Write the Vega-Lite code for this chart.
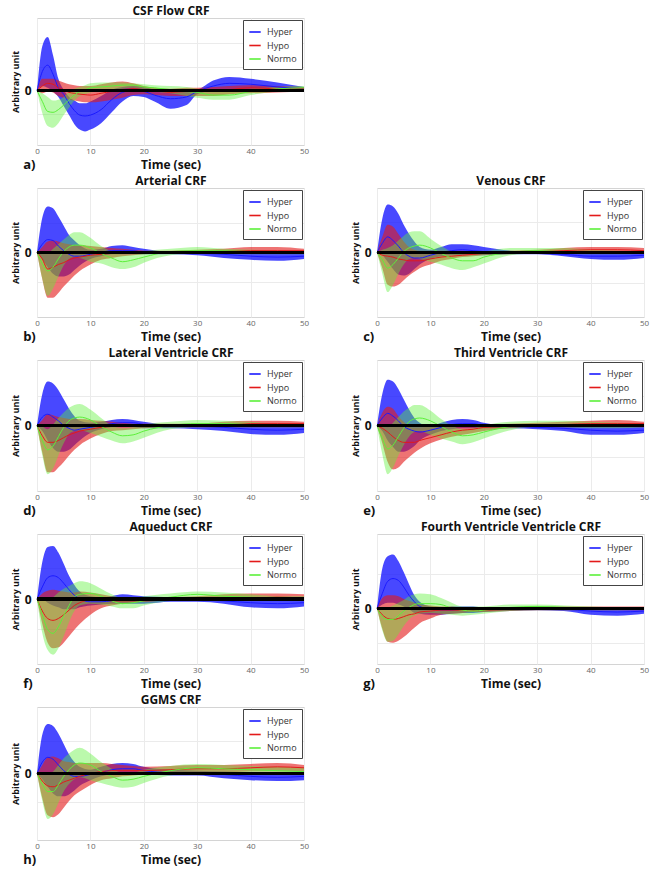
{
"$schema": "https://vega.github.io/schema/vega-lite/v6.json",
"padding": {"left": 10, "top": 3, "right": 4, "bottom": 0},
"background": "white",
"datasets": {
"crf": [
{"p":"a","s":"Hyper","t":0,"m":0,"l":0,"u":0},
{"p":"a","s":"Hyper","t":1,"m":2.1,"l":0.5,"u":4.9},
{"p":"a","s":"Hyper","t":2,"m":2.8,"l":0.3,"u":5.9},
{"p":"a","s":"Hyper","t":3,"m":1.8,"l":-0.1,"u":3.9},
{"p":"a","s":"Hyper","t":4,"m":0.3,"l":-0.7,"u":1.3},
{"p":"a","s":"Hyper","t":5,"m":-0.4,"l":-1.7,"u":0.1},
{"p":"a","s":"Hyper","t":6,"m":-1.4,"l":-2.7,"u":-0.7},
{"p":"a","s":"Hyper","t":7,"m":-2.2,"l":-3.7,"u":-1.1},
{"p":"a","s":"Hyper","t":8,"m":-2.7,"l":-4.3,"u":-1.4},
{"p":"a","s":"Hyper","t":9,"m":-2.8,"l":-4.5,"u":-1.4},
{"p":"a","s":"Hyper","t":10,"m":-2.7,"l":-4.3,"u":-1.2},
{"p":"a","s":"Hyper","t":12,"m":-2.1,"l":-3.6,"u":-0.6},
{"p":"a","s":"Hyper","t":14,"m":-1.0,"l":-2.4,"u":0.1},
{"p":"a","s":"Hyper","t":16,"m":-0.2,"l":-1.2,"u":0.4},
{"p":"a","s":"Hyper","t":18,"m":0.0,"l":-0.6,"u":0.5},
{"p":"a","s":"Hyper","t":20,"m":-0.1,"l":-0.7,"u":0.4},
{"p":"a","s":"Hyper","t":22,"m":-0.5,"l":-1.2,"u":0.1},
{"p":"a","s":"Hyper","t":25,"m":-0.9,"l":-2.0,"u":-0.1},
{"p":"a","s":"Hyper","t":28,"m":-0.7,"l":-1.6,"u":0.0},
{"p":"a","s":"Hyper","t":30,"m":-0.1,"l":-0.4,"u":0.1},
{"p":"a","s":"Hyper","t":33,"m":0.5,"l":0.0,"u":1.1},
{"p":"a","s":"Hyper","t":36,"m":0.8,"l":0.1,"u":1.5},
{"p":"a","s":"Hyper","t":40,"m":0.7,"l":0.0,"u":1.3},
{"p":"a","s":"Hyper","t":45,"m":0.4,"l":-0.1,"u":0.9},
{"p":"a","s":"Hyper","t":50,"m":0.2,"l":-0.1,"u":0.4},
{"p":"a","s":"Hypo","t":0,"m":0,"l":0,"u":0},
{"p":"a","s":"Hypo","t":1,"m":0.5,"l":-0.3,"u":1.3},
{"p":"a","s":"Hypo","t":2,"m":0.8,"l":-0.1,"u":1.3},
{"p":"a","s":"Hypo","t":3,"m":0.7,"l":-0.2,"u":1.3},
{"p":"a","s":"Hypo","t":4,"m":0.3,"l":-0.6,"u":1.1},
{"p":"a","s":"Hypo","t":5,"m":0.1,"l":-0.8,"u":0.9},
{"p":"a","s":"Hypo","t":6,"m":-0.2,"l":-1.0,"u":0.7},
{"p":"a","s":"Hypo","t":7,"m":-0.3,"l":-1.1,"u":0.6},
{"p":"a","s":"Hypo","t":8,"m":-0.4,"l":-1.2,"u":0.5},
{"p":"a","s":"Hypo","t":9,"m":-0.45,"l":-1.3,"u":0.5},
{"p":"a","s":"Hypo","t":10,"m":-0.5,"l":-1.3,"u":0.5},
{"p":"a","s":"Hypo","t":12,"m":-0.3,"l":-1.2,"u":0.7},
{"p":"a","s":"Hypo","t":14,"m":-0.1,"l":-1.0,"u":0.9},
{"p":"a","s":"Hypo","t":16,"m":0.0,"l":-0.8,"u":1.0},
{"p":"a","s":"Hypo","t":18,"m":0.2,"l":-0.5,"u":0.8},
{"p":"a","s":"Hypo","t":20,"m":0.1,"l":-0.4,"u":0.5},
{"p":"a","s":"Hypo","t":22,"m":0.0,"l":-0.5,"u":0.3},
{"p":"a","s":"Hypo","t":25,"m":-0.2,"l":-0.6,"u":0.2},
{"p":"a","s":"Hypo","t":28,"m":-0.1,"l":-0.6,"u":0.3},
{"p":"a","s":"Hypo","t":30,"m":-0.1,"l":-0.6,"u":0.3},
{"p":"a","s":"Hypo","t":33,"m":-0.1,"l":-0.6,"u":0.4},
{"p":"a","s":"Hypo","t":36,"m":0.1,"l":-0.4,"u":0.5},
{"p":"a","s":"Hypo","t":40,"m":0.3,"l":-0.3,"u":0.6},
{"p":"a","s":"Hypo","t":45,"m":0.2,"l":-0.2,"u":0.5},
{"p":"a","s":"Hypo","t":50,"m":0.2,"l":-0.1,"u":0.4},
{"p":"a","s":"Normo","t":0,"m":0,"l":0,"u":0},
{"p":"a","s":"Normo","t":1,"m":-1.2,"l":-2.5,"u":-0.3},
{"p":"a","s":"Normo","t":2,"m":-2.3,"l":-3.9,"u":-0.7},
{"p":"a","s":"Normo","t":3,"m":-2.4,"l":-4.1,"u":-1.1},
{"p":"a","s":"Normo","t":4,"m":-2.1,"l":-3.6,"u":-1.0},
{"p":"a","s":"Normo","t":5,"m":-1.6,"l":-2.7,"u":-0.7},
{"p":"a","s":"Normo","t":6,"m":-1.0,"l":-1.9,"u":-0.1},
{"p":"a","s":"Normo","t":7,"m":-0.5,"l":-1.1,"u":0.2},
{"p":"a","s":"Normo","t":8,"m":-0.1,"l":-0.6,"u":0.4},
{"p":"a","s":"Normo","t":9,"m":0.1,"l":-0.4,"u":0.6},
{"p":"a","s":"Normo","t":10,"m":0.3,"l":-0.2,"u":0.8},
{"p":"a","s":"Normo","t":12,"m":0.4,"l":-0.1,"u":0.9},
{"p":"a","s":"Normo","t":14,"m":0.5,"l":0.1,"u":0.9},
{"p":"a","s":"Normo","t":16,"m":0.6,"l":0.2,"u":0.9},
{"p":"a","s":"Normo","t":18,"m":0.6,"l":0.3,"u":0.8},
{"p":"a","s":"Normo","t":20,"m":0.4,"l":0.1,"u":0.7},
{"p":"a","s":"Normo","t":22,"m":0.3,"l":-0.1,"u":0.6},
{"p":"a","s":"Normo","t":25,"m":0.1,"l":-0.3,"u":0.5},
{"p":"a","s":"Normo","t":28,"m":-0.1,"l":-0.6,"u":0.4},
{"p":"a","s":"Normo","t":30,"m":-0.2,"l":-0.8,"u":0.2},
{"p":"a","s":"Normo","t":33,"m":-0.5,"l":-1.0,"u":-0.1},
{"p":"a","s":"Normo","t":36,"m":-0.5,"l":-1.0,"u":-0.1},
{"p":"a","s":"Normo","t":40,"m":-0.1,"l":-0.5,"u":0.2},
{"p":"a","s":"Normo","t":45,"m":0.2,"l":-0.1,"u":0.4},
{"p":"a","s":"Normo","t":50,"m":0.3,"l":0.1,"u":0.5},

{"p":"b","s":"Hyper","t":0,"m":0,"l":0,"u":0},
{"p":"b","s":"Hyper","t":1,"m":0.9,"l":-0.7,"u":3.8},
{"p":"b","s":"Hyper","t":2,"m":1.4,"l":-1.6,"u":5.0},
{"p":"b","s":"Hyper","t":3,"m":1.3,"l":-2.3,"u":4.8},
{"p":"b","s":"Hyper","t":4,"m":0.7,"l":-2.6,"u":3.9},
{"p":"b","s":"Hyper","t":5,"m":0.2,"l":-2.6,"u":2.9},
{"p":"b","s":"Hyper","t":6,"m":-0.2,"l":-2.4,"u":1.9},
{"p":"b","s":"Hyper","t":7,"m":-0.4,"l":-1.9,"u":1.3},
{"p":"b","s":"Hyper","t":8,"m":-0.4,"l":-1.4,"u":0.8},
{"p":"b","s":"Hyper","t":10,"m":-0.2,"l":-0.7,"u":0.3},
{"p":"b","s":"Hyper","t":12,"m":0.0,"l":-0.4,"u":0.4},
{"p":"b","s":"Hyper","t":14,"m":0.2,"l":-0.2,"u":0.7},
{"p":"b","s":"Hyper","t":16,"m":0.2,"l":-0.2,"u":0.8},
{"p":"b","s":"Hyper","t":18,"m":0.2,"l":-0.2,"u":0.6},
{"p":"b","s":"Hyper","t":20,"m":0.0,"l":-0.2,"u":0.4},
{"p":"b","s":"Hyper","t":25,"m":-0.1,"l":-0.2,"u":0.1},
{"p":"b","s":"Hyper","t":30,"m":-0.1,"l":-0.3,"u":0.1},
{"p":"b","s":"Hyper","t":35,"m":-0.2,"l":-0.6,"u":0.1},
{"p":"b","s":"Hyper","t":40,"m":-0.4,"l":-0.8,"u":0.0},
{"p":"b","s":"Hyper","t":45,"m":-0.5,"l":-0.9,"u":0.0},
{"p":"b","s":"Hyper","t":50,"m":-0.4,"l":-0.7,"u":0.1},
{"p":"b","s":"Hypo","t":0,"m":0,"l":0,"u":0},
{"p":"b","s":"Hypo","t":1,"m":-0.7,"l":-2.9,"u":0.6},
{"p":"b","s":"Hypo","t":2,"m":-1.8,"l":-4.9,"u":1.2},
{"p":"b","s":"Hypo","t":3,"m":-1.6,"l":-4.9,"u":1.3},
{"p":"b","s":"Hypo","t":4,"m":-1.3,"l":-4.4,"u":1.2},
{"p":"b","s":"Hypo","t":5,"m":-1.1,"l":-3.7,"u":1.0},
{"p":"b","s":"Hypo","t":6,"m":-0.8,"l":-3.1,"u":0.9},
{"p":"b","s":"Hypo","t":7,"m":-0.6,"l":-2.5,"u":0.8},
{"p":"b","s":"Hypo","t":8,"m":-0.5,"l":-2.0,"u":0.8},
{"p":"b","s":"Hypo","t":10,"m":-0.3,"l":-1.3,"u":0.7},
{"p":"b","s":"Hypo","t":12,"m":-0.2,"l":-0.8,"u":0.6},
{"p":"b","s":"Hypo","t":14,"m":-0.1,"l":-0.6,"u":0.5},
{"p":"b","s":"Hypo","t":16,"m":-0.1,"l":-0.4,"u":0.4},
{"p":"b","s":"Hypo","t":18,"m":0.0,"l":-0.3,"u":0.3},
{"p":"b","s":"Hypo","t":20,"m":0.0,"l":-0.2,"u":0.2},
{"p":"b","s":"Hypo","t":25,"m":0.0,"l":-0.1,"u":0.2},
{"p":"b","s":"Hypo","t":30,"m":0.1,"l":-0.1,"u":0.3},
{"p":"b","s":"Hypo","t":35,"m":0.2,"l":-0.1,"u":0.4},
{"p":"b","s":"Hypo","t":40,"m":0.2,"l":-0.1,"u":0.6},
{"p":"b","s":"Hypo","t":45,"m":0.2,"l":-0.1,"u":0.6},
{"p":"b","s":"Hypo","t":50,"m":0.2,"l":-0.1,"u":0.4},
{"p":"b","s":"Normo","t":0,"m":0,"l":0,"u":0},
{"p":"b","s":"Normo","t":1,"m":-1.2,"l":-2.9,"u":0.1},
{"p":"b","s":"Normo","t":2,"m":-2.0,"l":-4.7,"u":-0.1},
{"p":"b","s":"Normo","t":3,"m":-1.6,"l":-3.9,"u":0.4},
{"p":"b","s":"Normo","t":4,"m":-0.7,"l":-2.6,"u":0.9},
{"p":"b","s":"Normo","t":5,"m":0.1,"l":-1.4,"u":1.4},
{"p":"b","s":"Normo","t":6,"m":0.6,"l":-0.7,"u":1.9},
{"p":"b","s":"Normo","t":7,"m":0.8,"l":-0.5,"u":2.2},
{"p":"b","s":"Normo","t":8,"m":0.8,"l":-0.6,"u":2.2},
{"p":"b","s":"Normo","t":10,"m":0.5,"l":-1.0,"u":1.6},
{"p":"b","s":"Normo","t":12,"m":-0.1,"l":-1.2,"u":0.7},
{"p":"b","s":"Normo","t":14,"m":-0.6,"l":-1.6,"u":0.1},
{"p":"b","s":"Normo","t":16,"m":-1.0,"l":-1.8,"u":-0.2},
{"p":"b","s":"Normo","t":18,"m":-0.8,"l":-1.6,"u":-0.2},
{"p":"b","s":"Normo","t":20,"m":-0.5,"l":-1.1,"u":0.1},
{"p":"b","s":"Normo","t":25,"m":0.1,"l":-0.3,"u":0.4},
{"p":"b","s":"Normo","t":30,"m":0.2,"l":-0.1,"u":0.6},
{"p":"b","s":"Normo","t":35,"m":0.2,"l":-0.2,"u":0.4},
{"p":"b","s":"Normo","t":40,"m":0.1,"l":-0.2,"u":0.3},
{"p":"b","s":"Normo","t":45,"m":0.0,"l":-0.2,"u":0.2},
{"p":"b","s":"Normo","t":50,"m":0.0,"l":-0.2,"u":0.1},

{"p":"c","s":"Hyper","t":0,"m":0,"l":0,"u":0},
{"p":"c","s":"Hyper","t":1,"m":1.0,"l":-0.3,"u":3.7},
{"p":"c","s":"Hyper","t":2,"m":1.7,"l":-1.0,"u":5.2},
{"p":"c","s":"Hyper","t":3,"m":1.3,"l":-1.8,"u":5.0},
{"p":"c","s":"Hyper","t":4,"m":0.7,"l":-2.4,"u":4.2},
{"p":"c","s":"Hyper","t":5,"m":0.0,"l":-2.5,"u":3.0},
{"p":"c","s":"Hyper","t":6,"m":-0.4,"l":-2.3,"u":2.0},
{"p":"c","s":"Hyper","t":7,"m":-0.6,"l":-1.8,"u":1.2},
{"p":"c","s":"Hyper","t":8,"m":-0.6,"l":-1.3,"u":0.6},
{"p":"c","s":"Hyper","t":10,"m":-0.3,"l":-0.7,"u":0.3},
{"p":"c","s":"Hyper","t":12,"m":0.0,"l":-0.4,"u":0.6},
{"p":"c","s":"Hyper","t":14,"m":0.2,"l":-0.3,"u":0.9},
{"p":"c","s":"Hyper","t":16,"m":0.3,"l":-0.3,"u":0.9},
{"p":"c","s":"Hyper","t":18,"m":0.2,"l":-0.3,"u":0.8},
{"p":"c","s":"Hyper","t":20,"m":0.1,"l":-0.3,"u":0.6},
{"p":"c","s":"Hyper","t":25,"m":-0.1,"l":-0.2,"u":0.2},
{"p":"c","s":"Hyper","t":30,"m":-0.1,"l":-0.2,"u":0.1},
{"p":"c","s":"Hyper","t":35,"m":-0.2,"l":-0.4,"u":0.1},
{"p":"c","s":"Hyper","t":40,"m":-0.4,"l":-0.7,"u":0.0},
{"p":"c","s":"Hyper","t":45,"m":-0.4,"l":-0.8,"u":0.0},
{"p":"c","s":"Hyper","t":50,"m":-0.3,"l":-0.6,"u":0.1},
{"p":"c","s":"Hypo","t":0,"m":0,"l":0,"u":0},
{"p":"c","s":"Hypo","t":1,"m":-0.3,"l":-1.7,"u":1.7},
{"p":"c","s":"Hypo","t":2,"m":-0.4,"l":-3.5,"u":3.0},
{"p":"c","s":"Hypo","t":3,"m":-0.5,"l":-3.7,"u":2.8},
{"p":"c","s":"Hypo","t":4,"m":-0.7,"l":-3.5,"u":2.0},
{"p":"c","s":"Hypo","t":5,"m":-0.8,"l":-3.0,"u":1.2},
{"p":"c","s":"Hypo","t":6,"m":-0.9,"l":-2.5,"u":0.6},
{"p":"c","s":"Hypo","t":7,"m":-0.9,"l":-2.1,"u":0.3},
{"p":"c","s":"Hypo","t":8,"m":-0.9,"l":-1.7,"u":0.2},
{"p":"c","s":"Hypo","t":10,"m":-0.7,"l":-1.3,"u":0.2},
{"p":"c","s":"Hypo","t":12,"m":-0.5,"l":-0.9,"u":0.2},
{"p":"c","s":"Hypo","t":14,"m":-0.4,"l":-0.7,"u":0.2},
{"p":"c","s":"Hypo","t":16,"m":-0.3,"l":-0.5,"u":0.2},
{"p":"c","s":"Hypo","t":18,"m":-0.2,"l":-0.4,"u":0.1},
{"p":"c","s":"Hypo","t":20,"m":-0.1,"l":-0.3,"u":0.1},
{"p":"c","s":"Hypo","t":25,"m":0.0,"l":-0.2,"u":0.2},
{"p":"c","s":"Hypo","t":30,"m":0.1,"l":-0.1,"u":0.3},
{"p":"c","s":"Hypo","t":35,"m":0.2,"l":-0.1,"u":0.5},
{"p":"c","s":"Hypo","t":40,"m":0.3,"l":-0.1,"u":0.6},
{"p":"c","s":"Hypo","t":45,"m":0.3,"l":-0.1,"u":0.6},
{"p":"c","s":"Hypo","t":50,"m":0.2,"l":-0.1,"u":0.5},
{"p":"c","s":"Normo","t":0,"m":0,"l":0,"u":0},
{"p":"c","s":"Normo","t":1,"m":-0.8,"l":-2.3,"u":0.3},
{"p":"c","s":"Normo","t":2,"m":-1.7,"l":-4.3,"u":0.5},
{"p":"c","s":"Normo","t":3,"m":-1.3,"l":-3.5,"u":0.8},
{"p":"c","s":"Normo","t":4,"m":-0.6,"l":-2.3,"u":1.3},
{"p":"c","s":"Normo","t":5,"m":0.1,"l":-1.3,"u":1.8},
{"p":"c","s":"Normo","t":6,"m":0.5,"l":-0.7,"u":2.2},
{"p":"c","s":"Normo","t":7,"m":0.7,"l":-0.6,"u":2.3},
{"p":"c","s":"Normo","t":8,"m":0.8,"l":-0.7,"u":2.3},
{"p":"c","s":"Normo","t":10,"m":0.5,"l":-1.0,"u":1.5},
{"p":"c","s":"Normo","t":12,"m":-0.1,"l":-1.3,"u":0.7},
{"p":"c","s":"Normo","t":14,"m":-0.6,"l":-1.7,"u":0.1},
{"p":"c","s":"Normo","t":16,"m":-0.9,"l":-1.9,"u":-0.2},
{"p":"c","s":"Normo","t":18,"m":-0.9,"l":-1.6,"u":-0.1},
{"p":"c","s":"Normo","t":20,"m":-0.5,"l":-1.2,"u":0.1},
{"p":"c","s":"Normo","t":25,"m":0.0,"l":-0.3,"u":0.5},
{"p":"c","s":"Normo","t":30,"m":0.2,"l":-0.1,"u":0.5},
{"p":"c","s":"Normo","t":35,"m":0.1,"l":-0.1,"u":0.5},
{"p":"c","s":"Normo","t":40,"m":0.1,"l":-0.2,"u":0.3},
{"p":"c","s":"Normo","t":45,"m":0.0,"l":-0.2,"u":0.2},
{"p":"c","s":"Normo","t":50,"m":0.0,"l":-0.1,"u":0.1},

{"p":"d","s":"Hyper","t":0,"m":0,"l":0,"u":0},
{"p":"d","s":"Hyper","t":1,"m":0.9,"l":-0.6,"u":3.4},
{"p":"d","s":"Hyper","t":2,"m":1.2,"l":-1.6,"u":4.7},
{"p":"d","s":"Hyper","t":3,"m":0.9,"l":-2.4,"u":4.5},
{"p":"d","s":"Hyper","t":4,"m":0.5,"l":-2.8,"u":3.8},
{"p":"d","s":"Hyper","t":5,"m":0.0,"l":-2.8,"u":2.8},
{"p":"d","s":"Hyper","t":6,"m":-0.3,"l":-2.6,"u":1.8},
{"p":"d","s":"Hyper","t":7,"m":-0.5,"l":-2.1,"u":1.0},
{"p":"d","s":"Hyper","t":8,"m":-0.4,"l":-1.6,"u":0.5},
{"p":"d","s":"Hyper","t":10,"m":-0.2,"l":-0.8,"u":0.3},
{"p":"d","s":"Hyper","t":12,"m":0.0,"l":-0.4,"u":0.4},
{"p":"d","s":"Hyper","t":14,"m":0.2,"l":-0.2,"u":0.6},
{"p":"d","s":"Hyper","t":16,"m":0.3,"l":-0.2,"u":0.7},
{"p":"d","s":"Hyper","t":18,"m":0.3,"l":-0.2,"u":0.6},
{"p":"d","s":"Hyper","t":20,"m":0.1,"l":-0.3,"u":0.4},
{"p":"d","s":"Hyper","t":25,"m":-0.1,"l":-0.3,"u":0.1},
{"p":"d","s":"Hyper","t":30,"m":-0.1,"l":-0.4,"u":0.1},
{"p":"d","s":"Hyper","t":35,"m":-0.2,"l":-0.6,"u":0.1},
{"p":"d","s":"Hyper","t":40,"m":-0.4,"l":-0.9,"u":0.0},
{"p":"d","s":"Hyper","t":45,"m":-0.5,"l":-1.0,"u":0.0},
{"p":"d","s":"Hyper","t":50,"m":-0.4,"l":-0.8,"u":0.1},
{"p":"d","s":"Hypo","t":0,"m":0,"l":0,"u":0},
{"p":"d","s":"Hypo","t":1,"m":-1.1,"l":-2.9,"u":0.6},
{"p":"d","s":"Hypo","t":2,"m":-1.8,"l":-5.0,"u":1.2},
{"p":"d","s":"Hypo","t":3,"m":-1.8,"l":-5.0,"u":1.1},
{"p":"d","s":"Hypo","t":4,"m":-1.6,"l":-4.5,"u":0.9},
{"p":"d","s":"Hypo","t":5,"m":-1.3,"l":-3.9,"u":0.8},
{"p":"d","s":"Hypo","t":6,"m":-1.0,"l":-3.2,"u":0.7},
{"p":"d","s":"Hypo","t":7,"m":-0.8,"l":-2.6,"u":0.7},
{"p":"d","s":"Hypo","t":8,"m":-0.6,"l":-2.1,"u":0.7},
{"p":"d","s":"Hypo","t":10,"m":-0.4,"l":-1.4,"u":0.6},
{"p":"d","s":"Hypo","t":12,"m":-0.2,"l":-0.9,"u":0.5},
{"p":"d","s":"Hypo","t":14,"m":-0.1,"l":-0.6,"u":0.4},
{"p":"d","s":"Hypo","t":16,"m":-0.1,"l":-0.5,"u":0.3},
{"p":"d","s":"Hypo","t":18,"m":-0.1,"l":-0.4,"u":0.2},
{"p":"d","s":"Hypo","t":20,"m":0.0,"l":-0.3,"u":0.2},
{"p":"d","s":"Hypo","t":25,"m":0.0,"l":-0.2,"u":0.2},
{"p":"d","s":"Hypo","t":30,"m":0.1,"l":-0.2,"u":0.2},
{"p":"d","s":"Hypo","t":35,"m":0.1,"l":-0.2,"u":0.4},
{"p":"d","s":"Hypo","t":40,"m":0.2,"l":-0.2,"u":0.5},
{"p":"d","s":"Hypo","t":45,"m":0.2,"l":-0.2,"u":0.5},
{"p":"d","s":"Hypo","t":50,"m":0.2,"l":-0.2,"u":0.4},
{"p":"d","s":"Normo","t":0,"m":0,"l":0,"u":0},
{"p":"d","s":"Normo","t":1,"m":-1.6,"l":-3.2,"u":-0.1},
{"p":"d","s":"Normo","t":2,"m":-2.6,"l":-5.2,"u":-0.4},
{"p":"d","s":"Normo","t":3,"m":-2.2,"l":-4.6,"u":0.1},
{"p":"d","s":"Normo","t":4,"m":-1.2,"l":-3.2,"u":0.8},
{"p":"d","s":"Normo","t":5,"m":-0.2,"l":-1.9,"u":1.4},
{"p":"d","s":"Normo","t":6,"m":0.5,"l":-0.9,"u":1.9},
{"p":"d","s":"Normo","t":7,"m":0.8,"l":-0.6,"u":2.2},
{"p":"d","s":"Normo","t":8,"m":0.9,"l":-0.5,"u":2.3},
{"p":"d","s":"Normo","t":10,"m":0.6,"l":-0.8,"u":1.7},
{"p":"d","s":"Normo","t":12,"m":-0.1,"l":-1.2,"u":0.8},
{"p":"d","s":"Normo","t":14,"m":-0.7,"l":-1.6,"u":0.0},
{"p":"d","s":"Normo","t":16,"m":-1.1,"l":-1.9,"u":-0.3},
{"p":"d","s":"Normo","t":18,"m":-1.0,"l":-1.7,"u":-0.2},
{"p":"d","s":"Normo","t":20,"m":-0.6,"l":-1.3,"u":0.1},
{"p":"d","s":"Normo","t":25,"m":0.0,"l":-0.4,"u":0.4},
{"p":"d","s":"Normo","t":30,"m":0.2,"l":-0.2,"u":0.6},
{"p":"d","s":"Normo","t":35,"m":0.2,"l":-0.2,"u":0.5},
{"p":"d","s":"Normo","t":40,"m":0.1,"l":-0.2,"u":0.4},
{"p":"d","s":"Normo","t":45,"m":0.0,"l":-0.2,"u":0.2},
{"p":"d","s":"Normo","t":50,"m":0.0,"l":-0.2,"u":0.2},

{"p":"e","s":"Hyper","t":0,"m":0,"l":0,"u":0},
{"p":"e","s":"Hyper","t":1,"m":0.8,"l":-0.6,"u":3.4},
{"p":"e","s":"Hyper","t":2,"m":1.3,"l":-1.6,"u":4.9},
{"p":"e","s":"Hyper","t":3,"m":1.0,"l":-2.3,"u":4.7},
{"p":"e","s":"Hyper","t":4,"m":0.5,"l":-2.8,"u":3.9},
{"p":"e","s":"Hyper","t":5,"m":-0.1,"l":-2.8,"u":2.8},
{"p":"e","s":"Hyper","t":6,"m":-0.4,"l":-2.6,"u":1.7},
{"p":"e","s":"Hyper","t":7,"m":-0.6,"l":-2.2,"u":0.8},
{"p":"e","s":"Hyper","t":8,"m":-0.7,"l":-1.6,"u":0.3},
{"p":"e","s":"Hyper","t":10,"m":-0.5,"l":-1.0,"u":-0.1},
{"p":"e","s":"Hyper","t":12,"m":-0.2,"l":-0.6,"u":0.3},
{"p":"e","s":"Hyper","t":14,"m":0.1,"l":-0.4,"u":0.6},
{"p":"e","s":"Hyper","t":16,"m":0.2,"l":-0.3,"u":0.7},
{"p":"e","s":"Hyper","t":18,"m":0.2,"l":-0.3,"u":0.6},
{"p":"e","s":"Hyper","t":20,"m":0.0,"l":-0.3,"u":0.3},
{"p":"e","s":"Hyper","t":25,"m":-0.1,"l":-0.3,"u":0.0},
{"p":"e","s":"Hyper","t":30,"m":-0.2,"l":-0.4,"u":0.0},
{"p":"e","s":"Hyper","t":35,"m":-0.3,"l":-0.6,"u":0.0},
{"p":"e","s":"Hyper","t":40,"m":-0.5,"l":-1.0,"u":-0.1},
{"p":"e","s":"Hyper","t":45,"m":-0.6,"l":-1.0,"u":-0.1},
{"p":"e","s":"Hyper","t":50,"m":-0.5,"l":-0.8,"u":0.0},
{"p":"e","s":"Hypo","t":0,"m":0,"l":0,"u":0},
{"p":"e","s":"Hypo","t":1,"m":-0.3,"l":-1.9,"u":1.4},
{"p":"e","s":"Hypo","t":2,"m":-0.7,"l":-3.9,"u":2.0},
{"p":"e","s":"Hypo","t":3,"m":-1.2,"l":-4.7,"u":1.8},
{"p":"e","s":"Hypo","t":4,"m":-1.6,"l":-4.5,"u":1.0},
{"p":"e","s":"Hypo","t":5,"m":-1.8,"l":-3.9,"u":0.4},
{"p":"e","s":"Hypo","t":6,"m":-1.8,"l":-3.4,"u":-0.1},
{"p":"e","s":"Hypo","t":7,"m":-1.8,"l":-2.9,"u":-0.2},
{"p":"e","s":"Hypo","t":8,"m":-1.6,"l":-2.5,"u":-0.2},
{"p":"e","s":"Hypo","t":10,"m":-1.3,"l":-1.9,"u":-0.1},
{"p":"e","s":"Hypo","t":12,"m":-1.0,"l":-1.5,"u":0.0},
{"p":"e","s":"Hypo","t":14,"m":-0.7,"l":-1.2,"u":0.1},
{"p":"e","s":"Hypo","t":16,"m":-0.5,"l":-1.0,"u":0.1},
{"p":"e","s":"Hypo","t":18,"m":-0.4,"l":-0.8,"u":0.1},
{"p":"e","s":"Hypo","t":20,"m":-0.2,"l":-0.6,"u":0.1},
{"p":"e","s":"Hypo","t":25,"m":-0.1,"l":-0.3,"u":0.2},
{"p":"e","s":"Hypo","t":30,"m":0.0,"l":-0.2,"u":0.3},
{"p":"e","s":"Hypo","t":35,"m":0.1,"l":-0.2,"u":0.4},
{"p":"e","s":"Hypo","t":40,"m":0.2,"l":-0.2,"u":0.5},
{"p":"e","s":"Hypo","t":45,"m":0.2,"l":-0.2,"u":0.6},
{"p":"e","s":"Hypo","t":50,"m":0.2,"l":-0.2,"u":0.4},
{"p":"e","s":"Normo","t":0,"m":0,"l":0,"u":0},
{"p":"e","s":"Normo","t":1,"m":-1.4,"l":-3.1,"u":0.0},
{"p":"e","s":"Normo","t":2,"m":-2.5,"l":-5.2,"u":-0.2},
{"p":"e","s":"Normo","t":3,"m":-2.1,"l":-4.5,"u":0.3},
{"p":"e","s":"Normo","t":4,"m":-1.2,"l":-3.2,"u":0.9},
{"p":"e","s":"Normo","t":5,"m":-0.3,"l":-2.1,"u":1.5},
{"p":"e","s":"Normo","t":6,"m":0.4,"l":-1.2,"u":1.9},
{"p":"e","s":"Normo","t":7,"m":0.7,"l":-0.7,"u":2.2},
{"p":"e","s":"Normo","t":8,"m":0.8,"l":-0.6,"u":2.2},
{"p":"e","s":"Normo","t":10,"m":0.5,"l":-1.0,"u":1.6},
{"p":"e","s":"Normo","t":12,"m":-0.1,"l":-1.4,"u":0.7},
{"p":"e","s":"Normo","t":14,"m":-0.7,"l":-1.7,"u":0.0},
{"p":"e","s":"Normo","t":16,"m":-1.1,"l":-2.0,"u":-0.4},
{"p":"e","s":"Normo","t":18,"m":-1.0,"l":-1.8,"u":-0.3},
{"p":"e","s":"Normo","t":20,"m":-0.7,"l":-1.4,"u":0.0},
{"p":"e","s":"Normo","t":25,"m":-0.1,"l":-0.5,"u":0.4},
{"p":"e","s":"Normo","t":30,"m":0.1,"l":-0.2,"u":0.5},
{"p":"e","s":"Normo","t":35,"m":0.1,"l":-0.2,"u":0.5},
{"p":"e","s":"Normo","t":40,"m":0.0,"l":-0.3,"u":0.4},
{"p":"e","s":"Normo","t":45,"m":0.0,"l":-0.3,"u":0.3},
{"p":"e","s":"Normo","t":50,"m":0.0,"l":-0.2,"u":0.2},

{"p":"f","s":"Hyper","t":0,"m":0,"l":0,"u":0},
{"p":"f","s":"Hyper","t":1,"m":1.3,"l":0.0,"u":4.0},
{"p":"f","s":"Hyper","t":2,"m":2.3,"l":-0.4,"u":5.6},
{"p":"f","s":"Hyper","t":3,"m":2.5,"l":-0.7,"u":5.7},
{"p":"f","s":"Hyper","t":4,"m":2.3,"l":-0.9,"u":5.0},
{"p":"f","s":"Hyper","t":5,"m":1.7,"l":-1.1,"u":3.8},
{"p":"f","s":"Hyper","t":6,"m":1.0,"l":-1.1,"u":2.5},
{"p":"f","s":"Hyper","t":7,"m":0.4,"l":-1.1,"u":1.5},
{"p":"f","s":"Hyper","t":8,"m":0.0,"l":-0.9,"u":0.8},
{"p":"f","s":"Hyper","t":10,"m":-0.3,"l":-0.7,"u":0.3},
{"p":"f","s":"Hyper","t":12,"m":-0.3,"l":-0.6,"u":0.2},
{"p":"f","s":"Hyper","t":14,"m":-0.2,"l":-0.5,"u":0.3},
{"p":"f","s":"Hyper","t":16,"m":-0.1,"l":-0.5,"u":0.5},
{"p":"f","s":"Hyper","t":18,"m":-0.1,"l":-0.5,"u":0.4},
{"p":"f","s":"Hyper","t":20,"m":-0.1,"l":-0.5,"u":0.3},
{"p":"f","s":"Hyper","t":25,"m":-0.1,"l":-0.3,"u":0.2},
{"p":"f","s":"Hyper","t":30,"m":-0.1,"l":-0.3,"u":0.1},
{"p":"f","s":"Hyper","t":35,"m":-0.2,"l":-0.5,"u":0.1},
{"p":"f","s":"Hyper","t":40,"m":-0.4,"l":-0.9,"u":0.0},
{"p":"f","s":"Hyper","t":45,"m":-0.5,"l":-1.0,"u":0.0},
{"p":"f","s":"Hyper","t":50,"m":-0.4,"l":-0.8,"u":0.0},
{"p":"f","s":"Hypo","t":0,"m":0,"l":0,"u":0},
{"p":"f","s":"Hypo","t":1,"m":-1.3,"l":-2.7,"u":0.6},
{"p":"f","s":"Hypo","t":2,"m":-2.1,"l":-4.7,"u":0.9},
{"p":"f","s":"Hypo","t":3,"m":-2.3,"l":-5.3,"u":1.0},
{"p":"f","s":"Hypo","t":4,"m":-2.1,"l":-5.2,"u":0.9},
{"p":"f","s":"Hypo","t":5,"m":-1.7,"l":-4.7,"u":0.8},
{"p":"f","s":"Hypo","t":6,"m":-1.2,"l":-4.0,"u":0.7},
{"p":"f","s":"Hypo","t":7,"m":-0.7,"l":-3.3,"u":0.7},
{"p":"f","s":"Hypo","t":8,"m":-0.4,"l":-2.7,"u":0.8},
{"p":"f","s":"Hypo","t":10,"m":-0.1,"l":-1.7,"u":0.7},
{"p":"f","s":"Hypo","t":12,"m":-0.1,"l":-1.0,"u":0.5},
{"p":"f","s":"Hypo","t":14,"m":-0.2,"l":-0.7,"u":0.3},
{"p":"f","s":"Hypo","t":16,"m":-0.2,"l":-0.5,"u":0.2},
{"p":"f","s":"Hypo","t":18,"m":-0.2,"l":-0.4,"u":0.2},
{"p":"f","s":"Hypo","t":20,"m":-0.2,"l":-0.3,"u":0.1},
{"p":"f","s":"Hypo","t":25,"m":-0.1,"l":-0.2,"u":0.2},
{"p":"f","s":"Hypo","t":30,"m":0.0,"l":-0.2,"u":0.3},
{"p":"f","s":"Hypo","t":35,"m":0.1,"l":-0.2,"u":0.5},
{"p":"f","s":"Hypo","t":40,"m":0.1,"l":-0.2,"u":0.6},
{"p":"f","s":"Hypo","t":45,"m":0.2,"l":-0.2,"u":0.6},
{"p":"f","s":"Hypo","t":50,"m":0.1,"l":-0.2,"u":0.5},
{"p":"f","s":"Normo","t":0,"m":0,"l":0,"u":0},
{"p":"f","s":"Normo","t":1,"m":-1.7,"l":-3.7,"u":0.2},
{"p":"f","s":"Normo","t":2,"m":-3.3,"l":-5.5,"u":0.0},
{"p":"f","s":"Normo","t":3,"m":-3.7,"l":-6.0,"u":0.2},
{"p":"f","s":"Normo","t":4,"m":-3.0,"l":-5.3,"u":0.7},
{"p":"f","s":"Normo","t":5,"m":-1.8,"l":-4.0,"u":1.1},
{"p":"f","s":"Normo","t":6,"m":-0.7,"l":-2.5,"u":1.4},
{"p":"f","s":"Normo","t":7,"m":0.2,"l":-1.3,"u":1.7},
{"p":"f","s":"Normo","t":8,"m":0.5,"l":-0.7,"u":1.9},
{"p":"f","s":"Normo","t":10,"m":0.6,"l":-0.5,"u":1.7},
{"p":"f","s":"Normo","t":12,"m":0.3,"l":-0.6,"u":1.1},
{"p":"f","s":"Normo","t":14,"m":-0.2,"l":-0.8,"u":0.5},
{"p":"f","s":"Normo","t":16,"m":-0.5,"l":-1.0,"u":0.1},
{"p":"f","s":"Normo","t":18,"m":-0.4,"l":-1.0,"u":0.1},
{"p":"f","s":"Normo","t":20,"m":-0.2,"l":-0.7,"u":0.3},
{"p":"f","s":"Normo","t":25,"m":0.2,"l":-0.2,"u":0.6},
{"p":"f","s":"Normo","t":30,"m":0.5,"l":0.1,"u":0.8},
{"p":"f","s":"Normo","t":35,"m":0.3,"l":0.0,"u":0.7},
{"p":"f","s":"Normo","t":40,"m":0.2,"l":-0.1,"u":0.5},
{"p":"f","s":"Normo","t":45,"m":0.1,"l":-0.2,"u":0.3},
{"p":"f","s":"Normo","t":50,"m":0.1,"l":-0.1,"u":0.3},

{"p":"g","s":"Hyper","t":0,"m":0,"l":0,"u":0},
{"p":"g","s":"Hyper","t":1,"m":1.6,"l":0.4,"u":4.3},
{"p":"g","s":"Hyper","t":2,"m":2.9,"l":0.6,"u":5.6},
{"p":"g","s":"Hyper","t":3,"m":3.2,"l":0.6,"u":5.8},
{"p":"g","s":"Hyper","t":4,"m":3.0,"l":0.4,"u":5.1},
{"p":"g","s":"Hyper","t":5,"m":2.3,"l":0.2,"u":3.9},
{"p":"g","s":"Hyper","t":6,"m":1.4,"l":-0.1,"u":2.6},
{"p":"g","s":"Hyper","t":7,"m":0.7,"l":-0.5,"u":1.4},
{"p":"g","s":"Hyper","t":8,"m":0.2,"l":-0.6,"u":0.7},
{"p":"g","s":"Hyper","t":10,"m":-0.1,"l":-0.7,"u":0.2},
{"p":"g","s":"Hyper","t":12,"m":-0.2,"l":-0.7,"u":0.1},
{"p":"g","s":"Hyper","t":14,"m":-0.2,"l":-0.6,"u":0.2},
{"p":"g","s":"Hyper","t":16,"m":-0.1,"l":-0.5,"u":0.2},
{"p":"g","s":"Hyper","t":18,"m":-0.1,"l":-0.5,"u":0.2},
{"p":"g","s":"Hyper","t":20,"m":-0.1,"l":-0.4,"u":0.1},
{"p":"g","s":"Hyper","t":25,"m":0.0,"l":-0.3,"u":0.1},
{"p":"g","s":"Hyper","t":30,"m":0.0,"l":-0.2,"u":0.2},
{"p":"g","s":"Hyper","t":35,"m":-0.1,"l":-0.3,"u":0.1},
{"p":"g","s":"Hyper","t":40,"m":-0.3,"l":-0.7,"u":0.0},
{"p":"g","s":"Hyper","t":45,"m":-0.4,"l":-0.8,"u":-0.1},
{"p":"g","s":"Hyper","t":50,"m":-0.3,"l":-0.6,"u":0.0},
{"p":"g","s":"Hypo","t":0,"m":0,"l":0,"u":0},
{"p":"g","s":"Hypo","t":1,"m":-0.7,"l":-2.2,"u":1.1},
{"p":"g","s":"Hypo","t":2,"m":-1.1,"l":-3.6,"u":1.4},
{"p":"g","s":"Hypo","t":3,"m":-1.2,"l":-3.7,"u":1.4},
{"p":"g","s":"Hypo","t":4,"m":-1.1,"l":-3.5,"u":1.3},
{"p":"g","s":"Hypo","t":5,"m":-0.9,"l":-3.1,"u":1.0},
{"p":"g","s":"Hypo","t":6,"m":-0.7,"l":-2.6,"u":0.8},
{"p":"g","s":"Hypo","t":7,"m":-0.6,"l":-2.1,"u":0.6},
{"p":"g","s":"Hypo","t":8,"m":-0.4,"l":-1.6,"u":0.4},
{"p":"g","s":"Hypo","t":10,"m":-0.3,"l":-1.1,"u":0.3},
{"p":"g","s":"Hypo","t":12,"m":-0.2,"l":-0.7,"u":0.2},
{"p":"g","s":"Hypo","t":14,"m":-0.2,"l":-0.6,"u":0.2},
{"p":"g","s":"Hypo","t":16,"m":-0.2,"l":-0.5,"u":0.1},
{"p":"g","s":"Hypo","t":18,"m":-0.2,"l":-0.4,"u":0.1},
{"p":"g","s":"Hypo","t":20,"m":-0.2,"l":-0.4,"u":0.1},
{"p":"g","s":"Hypo","t":25,"m":-0.1,"l":-0.3,"u":0.1},
{"p":"g","s":"Hypo","t":30,"m":0.0,"l":-0.2,"u":0.2},
{"p":"g","s":"Hypo","t":35,"m":0.0,"l":-0.2,"u":0.2},
{"p":"g","s":"Hypo","t":40,"m":0.0,"l":-0.2,"u":0.2},
{"p":"g","s":"Hypo","t":45,"m":0.0,"l":-0.2,"u":0.2},
{"p":"g","s":"Hypo","t":50,"m":0.0,"l":-0.2,"u":0.2},
{"p":"g","s":"Normo","t":0,"m":0,"l":0,"u":0},
{"p":"g","s":"Normo","t":1,"m":-0.9,"l":-2.4,"u":0.1},
{"p":"g","s":"Normo","t":2,"m":-1.2,"l":-3.6,"u":0.1},
{"p":"g","s":"Normo","t":3,"m":-1.2,"l":-3.5,"u":0.3},
{"p":"g","s":"Normo","t":4,"m":-0.8,"l":-2.8,"u":0.6},
{"p":"g","s":"Normo","t":5,"m":-0.3,"l":-1.9,"u":0.9},
{"p":"g","s":"Normo","t":6,"m":0.1,"l":-1.2,"u":1.3},
{"p":"g","s":"Normo","t":7,"m":0.4,"l":-0.8,"u":1.5},
{"p":"g","s":"Normo","t":8,"m":0.5,"l":-0.6,"u":1.6},
{"p":"g","s":"Normo","t":10,"m":0.5,"l":-0.5,"u":1.5},
{"p":"g","s":"Normo","t":12,"m":0.4,"l":-0.6,"u":1.1},
{"p":"g","s":"Normo","t":14,"m":0.0,"l":-0.7,"u":0.6},
{"p":"g","s":"Normo","t":16,"m":-0.2,"l":-0.8,"u":0.2},
{"p":"g","s":"Normo","t":18,"m":-0.3,"l":-0.7,"u":0.2},
{"p":"g","s":"Normo","t":20,"m":-0.2,"l":-0.6,"u":0.2},
{"p":"g","s":"Normo","t":25,"m":0.1,"l":-0.3,"u":0.4},
{"p":"g","s":"Normo","t":30,"m":0.2,"l":-0.2,"u":0.4},
{"p":"g","s":"Normo","t":35,"m":0.1,"l":-0.2,"u":0.3},
{"p":"g","s":"Normo","t":40,"m":0.0,"l":-0.2,"u":0.2},
{"p":"g","s":"Normo","t":45,"m":0.0,"l":-0.2,"u":0.1},
{"p":"g","s":"Normo","t":50,"m":0.0,"l":-0.1,"u":0.1},

{"p":"h","s":"Hyper","t":0,"m":0,"l":0,"u":0},
{"p":"h","s":"Hyper","t":1,"m":1.2,"l":-0.6,"u":4.1},
{"p":"h","s":"Hyper","t":2,"m":1.7,"l":-1.4,"u":5.2},
{"p":"h","s":"Hyper","t":3,"m":1.5,"l":-2.1,"u":5.0},
{"p":"h","s":"Hyper","t":4,"m":0.9,"l":-2.4,"u":4.2},
{"p":"h","s":"Hyper","t":5,"m":0.3,"l":-2.4,"u":3.1},
{"p":"h","s":"Hyper","t":6,"m":-0.1,"l":-2.2,"u":2.0},
{"p":"h","s":"Hyper","t":7,"m":-0.3,"l":-1.8,"u":1.2},
{"p":"h","s":"Hyper","t":8,"m":-0.3,"l":-1.3,"u":0.7},
{"p":"h","s":"Hyper","t":10,"m":-0.1,"l":-0.7,"u":0.4},
{"p":"h","s":"Hyper","t":12,"m":0.1,"l":-0.3,"u":0.7},
{"p":"h","s":"Hyper","t":14,"m":0.4,"l":-0.1,"u":1.0},
{"p":"h","s":"Hyper","t":16,"m":0.5,"l":-0.1,"u":1.1},
{"p":"h","s":"Hyper","t":18,"m":0.5,"l":-0.1,"u":1.0},
{"p":"h","s":"Hyper","t":20,"m":0.3,"l":-0.1,"u":0.7},
{"p":"h","s":"Hyper","t":25,"m":0.1,"l":-0.2,"u":0.4},
{"p":"h","s":"Hyper","t":30,"m":0.1,"l":-0.2,"u":0.3},
{"p":"h","s":"Hyper","t":35,"m":-0.1,"l":-0.5,"u":0.2},
{"p":"h","s":"Hyper","t":40,"m":-0.3,"l":-0.7,"u":0.1},
{"p":"h","s":"Hyper","t":45,"m":-0.4,"l":-0.8,"u":0.1},
{"p":"h","s":"Hyper","t":50,"m":-0.3,"l":-0.7,"u":0.2},
{"p":"h","s":"Hypo","t":0,"m":0,"l":0,"u":0},
{"p":"h","s":"Hypo","t":1,"m":-0.8,"l":-2.6,"u":0.9},
{"p":"h","s":"Hypo","t":2,"m":-1.3,"l":-4.4,"u":1.7},
{"p":"h","s":"Hypo","t":3,"m":-1.4,"l":-4.6,"u":1.8},
{"p":"h","s":"Hypo","t":4,"m":-1.2,"l":-4.3,"u":1.6},
{"p":"h","s":"Hypo","t":5,"m":-0.9,"l":-3.6,"u":1.3},
{"p":"h","s":"Hypo","t":6,"m":-0.7,"l":-2.9,"u":1.2},
{"p":"h","s":"Hypo","t":7,"m":-0.5,"l":-2.3,"u":1.1},
{"p":"h","s":"Hypo","t":8,"m":-0.3,"l":-1.9,"u":1.1},
{"p":"h","s":"Hypo","t":10,"m":0.0,"l":-1.2,"u":1.1},
{"p":"h","s":"Hypo","t":12,"m":0.2,"l":-0.7,"u":1.1},
{"p":"h","s":"Hypo","t":14,"m":0.3,"l":-0.5,"u":1.0},
{"p":"h","s":"Hypo","t":16,"m":0.3,"l":-0.3,"u":0.9},
{"p":"h","s":"Hypo","t":18,"m":0.3,"l":-0.2,"u":0.8},
{"p":"h","s":"Hypo","t":20,"m":0.3,"l":-0.1,"u":0.7},
{"p":"h","s":"Hypo","t":25,"m":0.4,"l":0.0,"u":0.8},
{"p":"h","s":"Hypo","t":30,"m":0.5,"l":0.1,"u":0.9},
{"p":"h","s":"Hypo","t":35,"m":0.5,"l":0.1,"u":0.9},
{"p":"h","s":"Hypo","t":40,"m":0.6,"l":0.2,"u":1.0},
{"p":"h","s":"Hypo","t":45,"m":0.7,"l":0.2,"u":1.1},
{"p":"h","s":"Hypo","t":50,"m":0.6,"l":0.2,"u":0.9},
{"p":"h","s":"Normo","t":0,"m":0,"l":0,"u":0},
{"p":"h","s":"Normo","t":1,"m":-1.1,"l":-2.9,"u":0.1},
{"p":"h","s":"Normo","t":2,"m":-1.9,"l":-4.8,"u":-0.1},
{"p":"h","s":"Normo","t":3,"m":-1.9,"l":-4.3,"u":0.2},
{"p":"h","s":"Normo","t":4,"m":-1.2,"l":-3.1,"u":0.9},
{"p":"h","s":"Normo","t":5,"m":-0.3,"l":-1.9,"u":1.6},
{"p":"h","s":"Normo","t":6,"m":0.4,"l":-1.1,"u":2.1},
{"p":"h","s":"Normo","t":7,"m":0.9,"l":-0.6,"u":2.5},
{"p":"h","s":"Normo","t":8,"m":1.1,"l":-0.4,"u":2.7},
{"p":"h","s":"Normo","t":10,"m":0.9,"l":-0.7,"u":2.1},
{"p":"h","s":"Normo","t":12,"m":0.2,"l":-1.0,"u":1.2},
{"p":"h","s":"Normo","t":14,"m":-0.3,"l":-1.3,"u":0.5},
{"p":"h","s":"Normo","t":16,"m":-0.7,"l":-1.5,"u":0.1},
{"p":"h","s":"Normo","t":18,"m":-0.6,"l":-1.4,"u":0.1},
{"p":"h","s":"Normo","t":20,"m":-0.3,"l":-1.0,"u":0.4},
{"p":"h","s":"Normo","t":25,"m":0.3,"l":-0.2,"u":0.8},
{"p":"h","s":"Normo","t":30,"m":0.6,"l":0.0,"u":1.0},
{"p":"h","s":"Normo","t":35,"m":0.5,"l":0.0,"u":0.9},
{"p":"h","s":"Normo","t":40,"m":0.4,"l":-0.1,"u":0.8},
{"p":"h","s":"Normo","t":45,"m":0.3,"l":-0.1,"u":0.7},
{"p":"h","s":"Normo","t":50,"m":0.2,"l":-0.1,"u":0.6}
]
},
"data": {"name": "crf"},
"resolve": {"scale": {"x": "independent", "y": "independent", "color": "independent", "opacity": "independent"}},
"spacing": 0,
"vconcat": [
{"width": 267, "height": 127, "title": {"text": "a)"},
 "transform": [{"filter": "datum.p == 'a'"}],
 "resolve": {"axis": {"x": "independent"}},
 "layer": [
  {"mark": {"type": "area", "interpolate": "monotone"},
   "encoding": {
    "x": {"field": "t", "type": "quantitative", "scale": {"domain": [0, 50]}, "axis": {"values": [0, 10, 20, 30, 40, 50], "title": "Time (sec)"}},
    "y": {"field": "l", "type": "quantitative", "scale": {"domain": [-5.07, 7.77]}, "axis": {"values": [-2.6, 0, 2.6, 5.2], "title": "Arbitrary unit"}},
    "y2": {"field": "u"},
    "color": {"field": "s", "type": "nominal", "legend": {"title": null}},
    "opacity": {"field": "s", "type": "nominal", "scale": {"domain": ["Hyper", "Hypo", "Normo"], "range": [0.8, 0.42, 0.36]}, "legend": null}}},
  {"mark": {"type": "line", "interpolate": "monotone", "strokeWidth": 1},
   "encoding": {
    "x": {"field": "t", "type": "quantitative", "axis": {"orient": "top", "title": "CSF Flow CRF", "labels": false, "grid": false}},
    "y": {"field": "m", "type": "quantitative", "title": "Arbitrary unit"},
    "color": {"field": "s", "type": "nominal", "legend": {"title": null}}}},
  {"mark": {"type": "rule", "color": "black", "strokeWidth": 2.5}, "encoding": {"y": {"datum": 0}}}
 ]},
{"resolve": {"scale": {"x": "independent", "y": "independent", "color": "independent", "opacity": "independent"}},
 "spacing": 40,
 "hconcat": [
 {"width": 267, "height": 129, "title": {"text": "b)"},
  "transform": [{"filter": "datum.p == 'b'"}],
  "resolve": {"axis": {"x": "independent"}},
  "layer": [
   {"mark": {"type": "area", "interpolate": "monotone"},
    "encoding": {
     "x": {"field": "t", "type": "quantitative", "scale": {"domain": [0, 50]}, "axis": {"values": [0, 10, 20, 30, 40, 50], "title": "Time (sec)"}},
     "y": {"field": "l", "type": "quantitative", "scale": {"domain": [-6.4, 6.6]}, "axis": {"values": [-3.25, 0, 3.25], "title": "Arbitrary unit"}},
     "y2": {"field": "u"},
     "color": {"field": "s", "type": "nominal", "legend": {"title": null}},
     "opacity": {"field": "s", "type": "nominal", "scale": {"domain": ["Hyper", "Hypo", "Normo"], "range": [0.8, 0.42, 0.36]}, "legend": null}}},
   {"mark": {"type": "line", "interpolate": "monotone", "strokeWidth": 1},
    "encoding": {
     "x": {"field": "t", "type": "quantitative", "axis": {"orient": "top", "title": "Arterial CRF", "labels": false, "grid": false}},
     "y": {"field": "m", "type": "quantitative", "title": "Arbitrary unit"},
     "color": {"field": "s", "type": "nominal", "legend": {"title": null}}}},
   {"mark": {"type": "rule", "color": "black", "strokeWidth": 2.5}, "encoding": {"y": {"datum": 0}}}
  ]},
 {"width": 267, "height": 129, "title": {"text": "c)"},
  "transform": [{"filter": "datum.p == 'c'"}],
  "resolve": {"axis": {"x": "independent"}},
  "layer": [
   {"mark": {"type": "area", "interpolate": "monotone"},
    "encoding": {
     "x": {"field": "t", "type": "quantitative", "scale": {"domain": [0, 50]}, "axis": {"values": [0, 10, 20, 30, 40, 50], "title": "Time (sec)"}},
     "y": {"field": "l", "type": "quantitative", "scale": {"domain": [-6.33, 6.83]}, "axis": {"values": [-3.3, 0, 3.3], "title": "Arbitrary unit"}},
     "y2": {"field": "u"},
     "color": {"field": "s", "type": "nominal", "legend": {"title": null}},
     "opacity": {"field": "s", "type": "nominal", "scale": {"domain": ["Hyper", "Hypo", "Normo"], "range": [0.8, 0.42, 0.36]}, "legend": null}}},
   {"mark": {"type": "line", "interpolate": "monotone", "strokeWidth": 1},
    "encoding": {
     "x": {"field": "t", "type": "quantitative", "axis": {"orient": "top", "title": "Venous CRF", "labels": false, "grid": false}},
     "y": {"field": "m", "type": "quantitative", "title": "Arbitrary unit"},
     "color": {"field": "s", "type": "nominal", "legend": {"title": null}}}},
   {"mark": {"type": "rule", "color": "black", "strokeWidth": 2.5}, "encoding": {"y": {"datum": 0}}}
  ]}
 ]},
{"resolve": {"scale": {"x": "independent", "y": "independent", "color": "independent", "opacity": "independent"}},
 "spacing": 40,
 "hconcat": [
 {"width": 267, "height": 131, "title": {"text": "d)"},
  "transform": [{"filter": "datum.p == 'd'"}],
  "resolve": {"axis": {"x": "independent"}},
  "layer": [
   {"mark": {"type": "area", "interpolate": "monotone"},
    "encoding": {
     "x": {"field": "t", "type": "quantitative", "scale": {"domain": [0, 50]}, "axis": {"values": [0, 10, 20, 30, 40, 50], "title": "Time (sec)"}},
     "y": {"field": "l", "type": "quantitative", "scale": {"domain": [-6.57, 6.43]}, "axis": {"values": [-3.4, 0, 3.1], "title": "Arbitrary unit"}},
     "y2": {"field": "u"},
     "color": {"field": "s", "type": "nominal", "legend": {"title": null}},
     "opacity": {"field": "s", "type": "nominal", "scale": {"domain": ["Hyper", "Hypo", "Normo"], "range": [0.8, 0.42, 0.36]}, "legend": null}}},
   {"mark": {"type": "line", "interpolate": "monotone", "strokeWidth": 1},
    "encoding": {
     "x": {"field": "t", "type": "quantitative", "axis": {"orient": "top", "title": "Lateral Ventricle CRF", "labels": false, "grid": false}},
     "y": {"field": "m", "type": "quantitative", "title": "Arbitrary unit"},
     "color": {"field": "s", "type": "nominal", "legend": {"title": null}}}},
   {"mark": {"type": "rule", "color": "black", "strokeWidth": 2.5}, "encoding": {"y": {"datum": 0}}}
  ]},
 {"width": 267, "height": 131, "title": {"text": "e)"},
  "transform": [{"filter": "datum.p == 'e'"}],
  "resolve": {"axis": {"x": "independent"}},
  "layer": [
   {"mark": {"type": "area", "interpolate": "monotone"},
    "encoding": {
     "x": {"field": "t", "type": "quantitative", "scale": {"domain": [0, 50]}, "axis": {"values": [0, 10, 20, 30, 40, 50], "title": "Time (sec)"}},
     "y": {"field": "l", "type": "quantitative", "scale": {"domain": [-6.57, 6.37]}, "axis": {"values": [-3.4, 0, 3.2], "title": "Arbitrary unit"}},
     "y2": {"field": "u"},
     "color": {"field": "s", "type": "nominal", "legend": {"title": null}},
     "opacity": {"field": "s", "type": "nominal", "scale": {"domain": ["Hyper", "Hypo", "Normo"], "range": [0.8, 0.42, 0.36]}, "legend": null}}},
   {"mark": {"type": "line", "interpolate": "monotone", "strokeWidth": 1},
    "encoding": {
     "x": {"field": "t", "type": "quantitative", "axis": {"orient": "top", "title": "Third Ventricle CRF", "labels": false, "grid": false}},
     "y": {"field": "m", "type": "quantitative", "title": "Arbitrary unit"},
     "color": {"field": "s", "type": "nominal", "legend": {"title": null}}}},
   {"mark": {"type": "rule", "color": "black", "strokeWidth": 2.5}, "encoding": {"y": {"datum": 0}}}
  ]}
 ]},
{"resolve": {"scale": {"x": "independent", "y": "independent", "color": "independent", "opacity": "independent"}},
 "spacing": 40,
 "hconcat": [
 {"width": 267, "height": 130, "title": {"text": "f)"},
  "transform": [{"filter": "datum.p == 'f'"}],
  "resolve": {"axis": {"x": "independent"}},
  "layer": [
   {"mark": {"type": "area", "interpolate": "monotone"},
    "encoding": {
     "x": {"field": "t", "type": "quantitative", "scale": {"domain": [0, 50]}, "axis": {"values": [0, 10, 20, 30, 40, 50], "title": "Time (sec)"}},
     "y": {"field": "l", "type": "quantitative", "scale": {"domain": [-6.63, 6.33]}, "axis": {"values": [-3.2, 0, 3.3], "title": "Arbitrary unit"}},
     "y2": {"field": "u"},
     "color": {"field": "s", "type": "nominal", "legend": {"title": null}},
     "opacity": {"field": "s", "type": "nominal", "scale": {"domain": ["Hyper", "Hypo", "Normo"], "range": [0.8, 0.42, 0.36]}, "legend": null}}},
   {"mark": {"type": "line", "interpolate": "monotone", "strokeWidth": 1},
    "encoding": {
     "x": {"field": "t", "type": "quantitative", "axis": {"orient": "top", "title": "Aqueduct CRF", "labels": false, "grid": false}},
     "y": {"field": "m", "type": "quantitative", "title": "Arbitrary unit"},
     "color": {"field": "s", "type": "nominal", "legend": {"title": null}}}},
   {"mark": {"type": "rule", "color": "black", "strokeWidth": 2.5}, "encoding": {"y": {"datum": 0}}}
  ]},
 {"width": 267, "height": 130, "title": {"text": "g)"},
  "transform": [{"filter": "datum.p == 'g'"}],
  "resolve": {"axis": {"x": "independent"}},
  "layer": [
   {"mark": {"type": "area", "interpolate": "monotone"},
    "encoding": {
     "x": {"field": "t", "type": "quantitative", "scale": {"domain": [0, 50]}, "axis": {"values": [0, 10, 20, 30, 40, 50], "title": "Time (sec)"}},
     "y": {"field": "l", "type": "quantitative", "scale": {"domain": [-5.57, 7.3]}, "axis": {"values": [-3.7, -1.85, 0, 1.85, 3.7, 5.55], "title": "Arbitrary unit"}},
     "y2": {"field": "u"},
     "color": {"field": "s", "type": "nominal", "legend": {"title": null}},
     "opacity": {"field": "s", "type": "nominal", "scale": {"domain": ["Hyper", "Hypo", "Normo"], "range": [0.8, 0.42, 0.36]}, "legend": null}}},
   {"mark": {"type": "line", "interpolate": "monotone", "strokeWidth": 1},
    "encoding": {
     "x": {"field": "t", "type": "quantitative", "axis": {"orient": "top", "title": "Fourth Ventricle Ventricle CRF", "labels": false, "grid": false}},
     "y": {"field": "m", "type": "quantitative", "title": "Arbitrary unit"},
     "color": {"field": "s", "type": "nominal", "legend": {"title": null}}}},
   {"mark": {"type": "rule", "color": "black", "strokeWidth": 2.5}, "encoding": {"y": {"datum": 0}}}
  ]}
 ]},
{"width": 267, "height": 133, "title": {"text": "h)"},
 "transform": [{"filter": "datum.p == 'h'"}],
 "resolve": {"axis": {"x": "independent"}},
 "layer": [
  {"mark": {"type": "area", "interpolate": "monotone"},
   "encoding": {
    "x": {"field": "t", "type": "quantitative", "scale": {"domain": [0, 50]}, "axis": {"values": [0, 10, 20, 30, 40, 50], "title": "Time (sec)"}},
    "y": {"field": "l", "type": "quantitative", "scale": {"domain": [-6.6, 6.73]}, "axis": {"values": [-3.0, 0, 3.4], "title": "Arbitrary unit"}},
    "y2": {"field": "u"},
    "color": {"field": "s", "type": "nominal", "legend": {"title": null}},
    "opacity": {"field": "s", "type": "nominal", "scale": {"domain": ["Hyper", "Hypo", "Normo"], "range": [0.8, 0.42, 0.36]}, "legend": null}}},
  {"mark": {"type": "line", "interpolate": "monotone", "strokeWidth": 1},
   "encoding": {
    "x": {"field": "t", "type": "quantitative", "axis": {"orient": "top", "title": "GGMS CRF", "labels": false, "grid": false}},
    "y": {"field": "m", "type": "quantitative", "title": "Arbitrary unit"},
    "color": {"field": "s", "type": "nominal", "legend": {"title": null}}}},
  {"mark": {"type": "rule", "color": "black", "strokeWidth": 2.5}, "encoding": {"y": {"datum": 0}}}
 ]}
],
"config": {
 "font": "Open Sans",
 "view": {"stroke": "#d4d4d4", "strokeWidth": 1},
 "range": {"category": ["#1a1aff", "#e31a1a", "#5cf03a"]},
 "axis": {"domain": false, "ticks": false, "gridColor": "#ebebeb", "labelColor": "#666666", "labelFontSize": 8, "titleFontWeight": "bold", "titleColor": "#111111", "labelFlush": false},
 "axisX": {"titleFontSize": 12, "labelPadding": 2, "titlePadding": 4},
 "axisTop": {"titleFontSize": 12, "titlePadding": 1},
 "axisY": {"labelExpr": "datum.value == 0 ? '0' : ''", "labelFontSize": 12, "labelFontWeight": "bold", "labelColor": "#111111", "labelPadding": 6, "titleFontSize": 9, "titlePadding": 4},
 "title": {"orient": "bottom", "anchor": "start", "frame": "bounds", "fontSize": 13, "fontWeight": "bold", "color": "#111111", "offset": -11, "dx": 12},
 "legend": {"orient": "top-right", "offset": 2, "strokeColor": "#444444", "fillColor": "white", "padding": 5, "symbolType": "stroke", "symbolStrokeWidth": 1.6, "symbolSize": 130, "labelFontSize": 9, "labelColor": "#333333", "rowPadding": 1.5, "labelOffset": 5}
}
}
